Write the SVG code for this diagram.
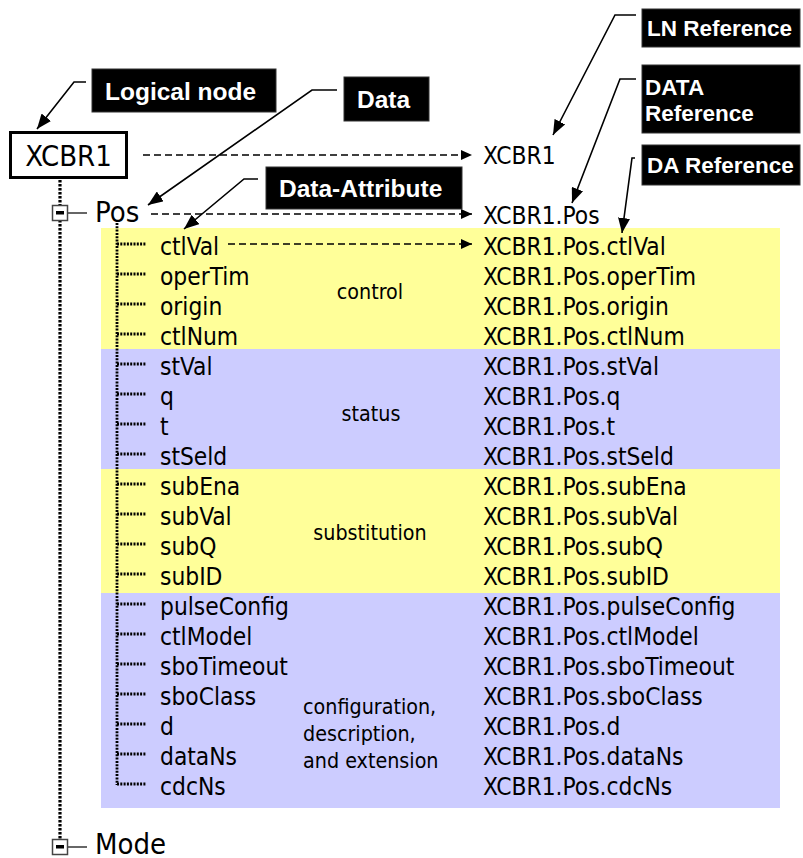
<svg xmlns="http://www.w3.org/2000/svg" width="803" height="858" viewBox="0 0 803 858">
<style>
.t{font-family:'DejaVu Sans Condensed','DejaVu Sans',sans-serif;font-stretch:condensed;font-size:24.3px;fill:#000}
.big{font-size:29px}
.cat{font-size:21.3px}
.lbl{font-family:'Liberation Sans',Arial,sans-serif;font-weight:bold;fill:#fff;font-size:24.5px}
.lbl2{font-size:22.5px}
.box{fill:#000;stroke:#333;stroke-width:1}
.lead{fill:none;stroke:#000;stroke-width:1.6;marker-end:url(#ah)}
.dash{fill:none;stroke:#000;stroke-width:1.6;stroke-dasharray:7 4;marker-end:url(#dh)}
.dot{fill:none;stroke:#000;stroke-width:3.2;stroke-dasharray:2.5 1.5}
.br{fill:none;stroke:#000;stroke-width:2.8;stroke-dasharray:2 1.3}
.tog{fill:#fff;stroke:#444;stroke-width:1.5}
</style>
<defs>
<marker id="ah" markerUnits="userSpaceOnUse" markerWidth="16" markerHeight="12" refX="15" refY="6" orient="auto"><path d="M0,0 L15,6 L0,12 z" fill="#000"/></marker>
<marker id="dh" markerUnits="userSpaceOnUse" markerWidth="12" markerHeight="10" refX="11" refY="5" orient="auto"><path d="M0,0 L11,5 L0,10 z" fill="#000"/></marker>
</defs>

<g id="bands">
<rect x="101" y="228" width="679" height="121" fill="#FFFF99"/>
<rect x="101" y="349" width="679" height="120" fill="#CCCCFF"/>
<rect x="101" y="469" width="679" height="124" fill="#FFFF99"/>
<rect x="101" y="593" width="679" height="215" fill="#CCCCFF"/>
</g>

<g id="tree">
<path class="dot" d="M60,180 V840"/>
<path class="br" d="M117,223 V785"/>
<path class="br" d="M117,244 H146 M117,274 H146 M117,304 H146 M117,334 H146 M117,364 H146 M117,394 H146 M117,424 H146 M117,454 H146 M117,484 H146 M117,514 H146 M117,544 H146 M117,574 H146 M117,604 H146 M117,634 H146 M117,664 H146 M117,694 H146 M117,724 H146 M117,754 H146 M117,784 H146"/>
</g>

<g id="connectors">
<path class="dash" d="M143,155 H472"/>
<path class="dash" d="M151,214 H472"/>
<path class="dash" d="M228,244 H472"/>
<path class="lead" d="M86,82 H74 L37,129"/>
<path class="lead" d="M337,90 H312 L148,205"/>
<path class="lead" d="M258,179 H244 L184,229"/>
<path class="lead" d="M636,15 H615 L553,135"/>
<path class="lead" d="M636,79 H620 L572,203"/>
<path class="lead" d="M635,158 H632 L622,233"/>
</g>

<g id="n-XCBR1">
<rect x="10.5" y="132.5" width="116" height="45" fill="#fff" stroke="#000" stroke-width="3"/>
<text class="t big" x="68.5" y="166" text-anchor="middle">XCBR1</text>
</g>

<g id="n-Pos">
<path d="M68,213 H87" stroke="#000" stroke-width="1.2"/>
<rect class="tog" x="52.5" y="205.5" width="15" height="15"/>
<rect x="56" y="211" width="8" height="3.5" fill="#000"/>
<text class="t big" x="95" y="222">Pos</text>
</g>

<g id="n-Mode">
<path d="M68,847 H87" stroke="#000" stroke-width="1.2"/>
<rect class="tog" x="52.5" y="839.5" width="15" height="15"/>
<rect x="56" y="845" width="8" height="3.5" fill="#000"/>
<text class="t big" x="95" y="854">Mode</text>
</g>

<g id="n-attrs" class="t">
<text x="160" y="255">ctlVal</text>
<text x="160" y="285">operTim</text>
<text x="160" y="315">origin</text>
<text x="160" y="345">ctlNum</text>
<text x="160" y="375">stVal</text>
<text x="160" y="405">q</text>
<text x="160" y="435">t</text>
<text x="160" y="465">stSeld</text>
<text x="160" y="495">subEna</text>
<text x="160" y="525">subVal</text>
<text x="160" y="555">subQ</text>
<text x="160" y="585">subID</text>
<text x="160" y="615">pulseConfig</text>
<text x="160" y="645">ctlModel</text>
<text x="160" y="675">sboTimeout</text>
<text x="160" y="705">sboClass</text>
<text x="160" y="735">d</text>
<text x="160" y="765">dataNs</text>
<text x="160" y="795">cdcNs</text>
</g>

<g id="n-categories" class="t cat">
<text x="370" y="299" text-anchor="middle">control</text>
<text x="371" y="421" text-anchor="middle">status</text>
<text x="370" y="540" text-anchor="middle">substitution</text>
<text x="303" y="714">configuration,</text>
<text x="303" y="741">description,</text>
<text x="303" y="768">and extension</text>
</g>

<g id="n-refs" class="t">
<text x="483" y="164">XCBR1</text>
<text x="483" y="224">XCBR1.Pos</text>
<text x="483" y="255">XCBR1.Pos.ctlVal</text>
<text x="483" y="285">XCBR1.Pos.operTim</text>
<text x="483" y="315">XCBR1.Pos.origin</text>
<text x="483" y="345">XCBR1.Pos.ctlNum</text>
<text x="483" y="375">XCBR1.Pos.stVal</text>
<text x="483" y="405">XCBR1.Pos.q</text>
<text x="483" y="435">XCBR1.Pos.t</text>
<text x="483" y="465">XCBR1.Pos.stSeld</text>
<text x="483" y="495">XCBR1.Pos.subEna</text>
<text x="483" y="525">XCBR1.Pos.subVal</text>
<text x="483" y="555">XCBR1.Pos.subQ</text>
<text x="483" y="585">XCBR1.Pos.subID</text>
<text x="483" y="615">XCBR1.Pos.pulseConfig</text>
<text x="483" y="645">XCBR1.Pos.ctlModel</text>
<text x="483" y="675">XCBR1.Pos.sboTimeout</text>
<text x="483" y="705">XCBR1.Pos.sboClass</text>
<text x="483" y="735">XCBR1.Pos.d</text>
<text x="483" y="765">XCBR1.Pos.dataNs</text>
<text x="483" y="795">XCBR1.Pos.cdcNs</text>
</g>

<g id="l-logical">
<rect class="box" x="92" y="69" width="184" height="43"/>
<text class="lbl" x="105" y="99.5">Logical node</text>
</g>
<g id="l-data">
<rect class="box" x="344" y="77" width="85" height="44"/>
<text class="lbl" x="357" y="107.5">Data</text>
</g>
<g id="l-da">
<rect class="box" x="266" y="167" width="196" height="42"/>
<text class="lbl" x="279" y="197">Data-Attribute</text>
</g>
<g id="l-lnref">
<rect class="box" x="642" y="9" width="158" height="38"/>
<text class="lbl lbl2" x="647" y="36">LN Reference</text>
</g>
<g id="l-dataref">
<rect class="box" x="642" y="65" width="158" height="68"/>
<text class="lbl lbl2" x="645" y="95">DATA</text>
<text class="lbl lbl2" x="645" y="121">Reference</text>
</g>
<g id="l-daref">
<rect class="box" x="642" y="145" width="158" height="40"/>
<text class="lbl lbl2" x="647" y="173">DA Reference</text>
</g>
</svg>
